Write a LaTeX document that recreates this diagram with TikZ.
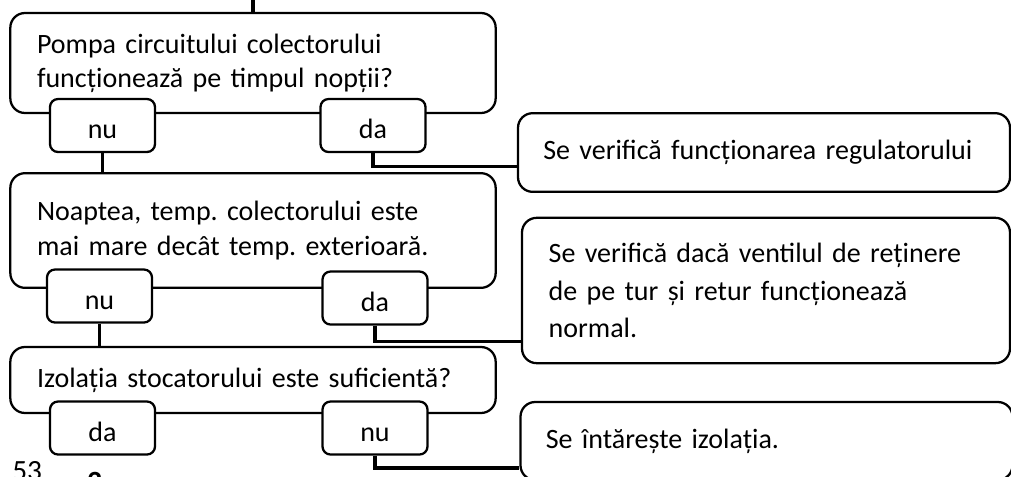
\documentclass[tikz,border=0pt]{standalone}
\usepackage{fontspec}
\setmainfont{Carlito}
\usetikzlibrary{calc}
\frenchspacing
\newcommand\boxfont{\fontsize{21}{25.5}\selectfont}
\newcommand\resfont{\fontsize{21}{28}\selectfont}
\begin{document}
\begin{tikzpicture}[x=0.75pt,y=-0.75pt,
  qbox/.style={draw, line width=1.7pt, rounded corners=11pt, align=left,
    text width=324pt, inner xsep=20pt, inner ysep=0pt, font=\boxfont},
  resbox/.style={draw, line width=1.7pt, rounded corners=11pt, align=left,
    text width=331pt, inner xsep=19pt, inner ysep=0pt, font=\resfont},
  ansbox/.style={draw, fill=white, line width=1.7pt, rounded corners=6pt,
    minimum width=78.75pt, minimum height=39.75pt, inner sep=0pt,
    text height=20pt, text depth=0pt, font=\boxfont},
  link/.style={line width=2.6pt}]
\useasboundingbox (0,0) rectangle (1011,476);
% questions
\node[qbox, minimum height=75pt] (q1) at (253,63)
{Pompa circuitului colectorului\\funcționează pe timpul nopții?};
\node[qbox, minimum height=86pt, font=\fontsize{21}{26.25}\selectfont] (q2) at (253,230.5)
{Noaptea, temp. colectorului este\\mai mare decât temp. exterioară.};
\node[qbox, minimum height=49.5pt] (q3) at (253,380)
{Izolația stocatorului este suficientă?};
% results
\node[resbox, minimum height=59pt] (r1) at (764,152.5)
{Se verifică funcționarea regulatorului};
\node[resbox, text width=326pt, inner xsep=20pt, minimum height=109pt] (r2) at (766,290.5)
{Se verifică dacă ventilul de reținere\\de pe tur și retur funcționează\\normal.};
\node[resbox, minimum height=58.5pt] (r3) at (766.5,441)
{Se întărește izolația.};
% answers
\node[ansbox] (no1) at (102.5,125.5) {nu};
\node[ansbox] (yes1) at (373,125.5) {da};
\node[ansbox] (no2) at (99.5,296) {nu};
\node[ansbox] (yes2) at (375,298) {da};
\node[ansbox] (yes3) at (102.5,428) {da};
\node[ansbox] (no3) at (375,428) {nu};
% links
\coordinate (entry) at (q1.north |- 0,0);
\draw[link] (entry) -- (q1.north);
\draw[link] (no1.south) -- (no1.south |- q2.north);
\draw[link] (yes1.south) |- ($(r1.west)+(0,14)$);
\draw[link] (no2.south) -- (no2.south |- q3.north);
\draw[link] (yes2.south) |- ($(r2.south west)+(0,-23)$);
\draw[link] (no3.south) |- ($(r3.west)+(0,27)$);
% page remains
\node[anchor=north west, inner sep=0pt, font=\fontsize{22}{24}\selectfont] (pgnum) at (12,461) {53};
\node[anchor=north west, inner sep=0pt, font=\bfseries\fontsize{22}{24}\selectfont] (pgsec) at (87,472) {2};
\end{tikzpicture}
\end{document}
